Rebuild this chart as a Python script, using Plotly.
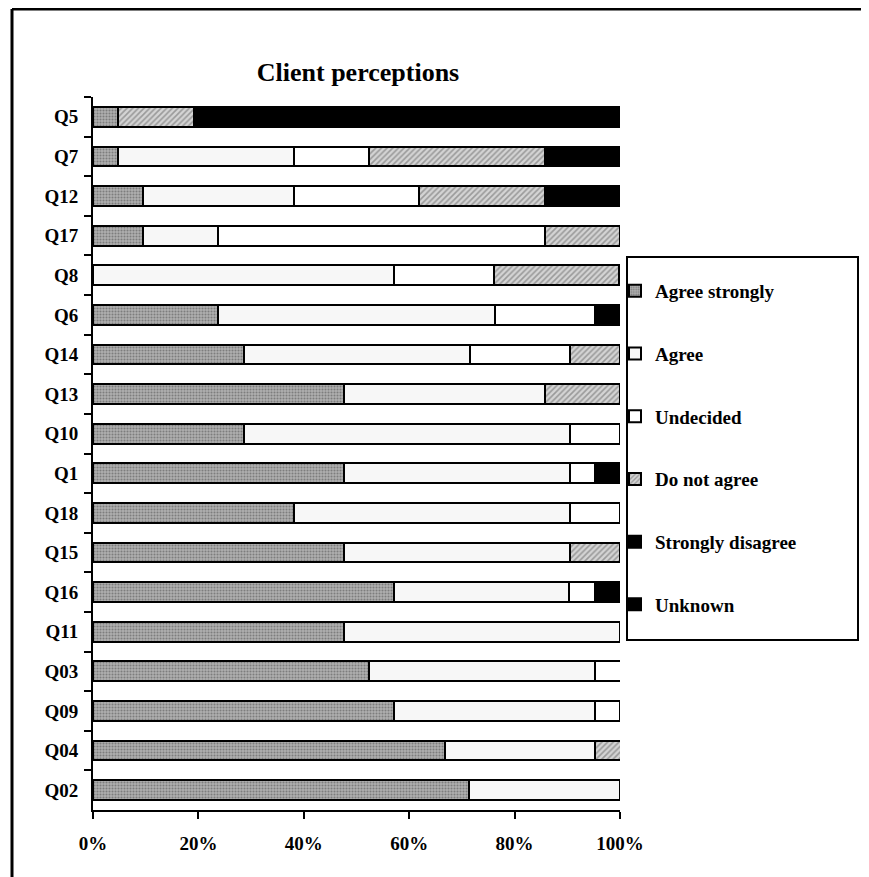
import plotly.graph_objects as go

questions = ["Q5", "Q7", "Q12", "Q17", "Q8", "Q6", "Q14", "Q13", "Q10",
             "Q1", "Q18", "Q15", "Q16", "Q11", "Q03", "Q09", "Q04", "Q02"]

agree_strongly = [4.8, 4.8, 9.5, 9.5, 0, 23.8, 28.6, 47.6, 28.6,
                  47.6, 38.1, 47.6, 57.1, 47.6, 52.4, 57.1, 66.7, 71.4]
agree = [0, 33.3, 28.6, 14.3, 57.1, 52.4, 42.9, 38.1, 61.9,
         42.9, 52.4, 42.9, 33.3, 52.4, 42.9, 38.1, 28.6, 28.6]
undecided = [0, 14.3, 23.8, 61.9, 19.0, 19.0, 19.0, 0, 9.5,
             4.8, 9.5, 0, 4.8, 0, 4.8, 4.8, 0, 0]
do_not_agree = [14.3, 33.3, 23.8, 14.3, 23.8, 0, 9.5, 14.3, 0,
                0, 0, 9.5, 0, 0, 0, 0, 4.8, 0]
strongly_disagree = [80.9, 14.3, 14.3, 0, 0, 4.8, 0, 0, 0,
                     4.8, 0, 0, 4.8, 0, 0, 0, 0, 0]
unknown = [0] * 18

x_ticks = [0, 20, 40, 60, 80, 100]
x_tick_labels = ["0%", "20%", "40%", "60%", "80%", "100%"]

FONT = "Liberation Serif, Times New Roman, serif"

series = [
    ("Agree strongly", agree_strongly, dict(color="#a6a6a6", pattern=dict(shape=".", fgcolor="#4a4a4a", bgcolor="#b0b0b0", size=3, solidity=0.4))),
    ("Agree", agree, dict(color="#f7f7f7")),
    ("Undecided", undecided, dict(color="#ffffff")),
    ("Do not agree", do_not_agree, dict(color="#c8c8c8", pattern=dict(shape="/", fgcolor="#606060", bgcolor="#d4d4d4", size=4, solidity=0.4))),
    ("Strongly disagree", strongly_disagree, dict(color="#000000")),
    ("Unknown", unknown, dict(color="#000000")),
]

fig = go.Figure()
for i, (name, vals, mk) in enumerate(series):
    mk = dict(mk)
    mk["line"] = dict(color="black", width=2)
    fig.add_trace(go.Bar(
        y=questions, x=vals, name=name, orientation="h",
        marker=mk, legendgroup=f"g{i}",
    ))

# the page body has an 8px margin; work in page pixels and offset
OFF = 8
W, H = 869 - OFF, 877 - OFF
L, R, T, B = 93 - OFF, 869 - 620, 97 - OFF, 877 - 810
pw = W - L - R
ph = H - T - B

def px_x(px):
    return (px - OFF - L) / pw

def px_y(py):
    return (T + ph - (py - OFF)) / ph

fig.update_layout(
    width=W, height=H,
    margin=dict(l=L, r=R, t=T, b=B),
    paper_bgcolor="white", plot_bgcolor="white",
    barmode="stack", bargap=0.5,
    font=dict(family=FONT, size=19, color="black", weight="bold"),
    title=dict(text="Client perceptions", x=px_x(358), xref="paper", xanchor="center",
               y=1 - (72 - OFF) / H, yanchor="middle",
               font=dict(family=FONT, size=26, color="black", weight="bold")),
    showlegend=True,
    legend=dict(x=px_x(615), y=px_y(272), xanchor="left", yanchor="top",
                traceorder="grouped", tracegroupgap=35, itemwidth=30,
                bgcolor="rgba(0,0,0,0)", borderwidth=0,
                font=dict(family=FONT, size=19, color="black", weight="bold")),
    xaxis=dict(range=[0, 100], tickvals=x_ticks, ticktext=x_tick_labels,
               showgrid=False, zeroline=False, showline=True, linecolor="black",
               linewidth=2, ticks="outside", ticklen=7, tickwidth=2, tickcolor="black",
               ticklabelstandoff=8, fixedrange=True),
    yaxis=dict(categoryorder="array", categoryarray=questions, autorange="reversed",
               showgrid=False, zeroline=False, showline=True, linecolor="black",
               linewidth=2, ticks="outside", ticklen=7, tickwidth=2, tickcolor="black",
               tickson="boundaries", ticklabelstandoff=9, fixedrange=True),
    shapes=[
        # outer frame (left and top edges of the scanned border)
        dict(type="line", xref="paper", yref="paper", x0=px_x(12), x1=px_x(12),
             y0=px_y(880), y1=px_y(9), line=dict(color="black", width=3)),
        dict(type="line", xref="paper", yref="paper", x0=px_x(12), x1=px_x(872),
             y0=px_y(9), y1=px_y(9), line=dict(color="black", width=3)),
        # legend box
        dict(type="rect", xref="paper", yref="paper", x0=px_x(627), x1=px_x(858),
             y0=px_y(640), y1=px_y(257), line=dict(color="black", width=2),
             fillcolor="rgba(0,0,0,0)"),
    ],
)

fig.write_html("out.html")
